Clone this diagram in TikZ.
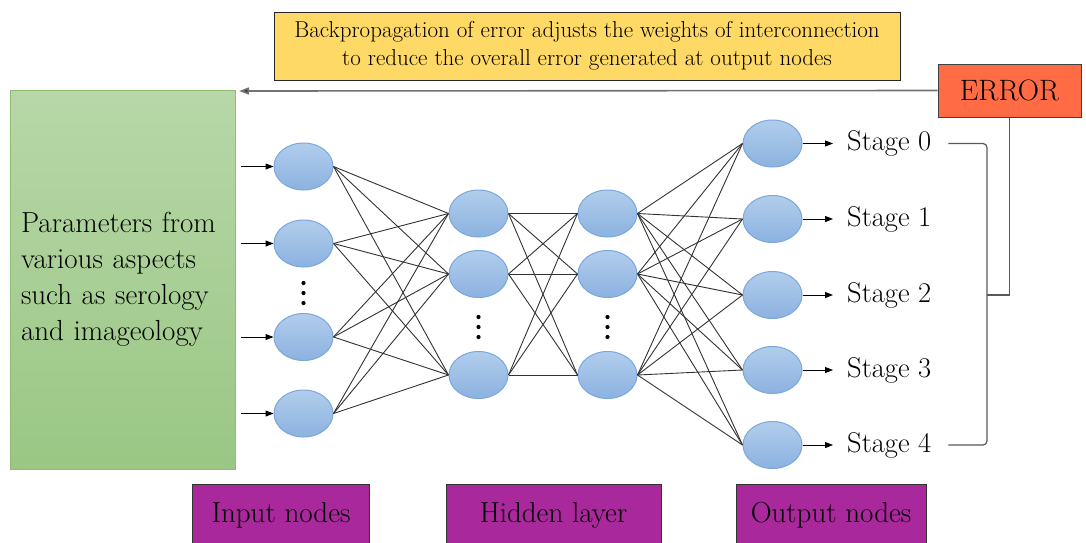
\documentclass[tikz,border=0pt]{standalone}
\usetikzlibrary{shapes.geometric,arrows.meta}

\definecolor{neuronTop}{HTML}{B1CDEC}
\definecolor{neuronBot}{HTML}{8CB2E0}
\definecolor{neuronEdge}{HTML}{7AA8DD}
\definecolor{paramTop}{HTML}{B7D7A8}
\definecolor{paramBot}{HTML}{9AC784}
\definecolor{paramEdge}{HTML}{8DBE72}
\definecolor{noteFill}{HTML}{FFD966}
\definecolor{errFill}{HTML}{FF6B45}
\definecolor{layerFill}{HTML}{A9289B}
\definecolor{wire}{HTML}{333333}

\tikzset{
  neuron/.style={ellipse, draw=neuronEdge, line width=1pt, top color=neuronTop,
    bottom color=neuronBot, minimum width=59, minimum height=47, inner sep=0},
  wireline/.style={draw=wire, line width=0.9pt},
  feed/.style={draw=black, line width=1pt, -{Triangle[length=8,width=6]}},
  stagelabel/.style={anchor=west, inner xsep=14, inner ysep=0,
    font=\fontsize{28.5}{32}\selectfont},
  layertag/.style={draw=black!80, line width=0.8pt, fill=layerFill, anchor=base,
    font=\fontsize{29}{32}\selectfont, inner ysep=0, text height=38, text depth=40},
  vdots/.style={fill=black, circle, inner sep=0, minimum size=4.2},
  bracket/.style={draw=black!65, line width=1.2pt},
}

\begin{document}
\begin{tikzpicture}[x=1pt, y=-1pt]
\clip (0,0) rectangle (1086,542);
\fill[white] (0,0) rectangle (1086,542);

% explanatory note and error box
\node[draw=black!85, line width=1pt, fill=noteFill, minimum width=626, minimum height=68,
  align=center, font=\fontsize{23}{28}\selectfont] (note) at (587,46)
  {Backpropagation of error adjusts the weights of interconnection\\
   to reduce the overall error generated at output nodes};
\node[draw=black!75, line width=1pt, fill=errFill, minimum width=143, minimum height=53,
  font=\fontsize{29.5}{32}\selectfont] (err) at (1009.5,90.5) {ERROR};

% input parameter box
\node[draw=paramEdge, line width=1pt, top color=paramTop, bottom color=paramBot,
  minimum width=225, minimum height=379, text width=203, inner xsep=11, align=left,
  font=\fontsize{29}{36}\selectfont] (params) at (122.5,279.5)
  {Parameters from various aspects such as serology and imageology};

% back-propagation arrow
\coordinate (backTip) at (239,91);
\draw[draw=black!55, line width=1.6pt, -{Triangle[length=10,width=7,fill=black!80]}]
  (err.west) -- (backTip);

% input layer
\foreach \i/\y in {1/166.5, 2/243.5, 3/337, 4/413.5} {
  \node[neuron] (in\i) at (303.5,\y) {};
  \coordinate (src\i) at (241,\y);
  \draw[feed] (src\i) -- (in\i.west);
}
\foreach \y [count=\k] in {283,293,303} \node[vdots] (dIn\k) at (303.5,\y) {};

% hidden layers
\foreach \j/\y in {1/213.5, 2/274, 3/375} {
  \node[neuron] (ha\j) at (478.5,\y) {};
  \node[neuron] (hb\j) at (607.5,\y) {};
}
\foreach \y [count=\k] in {317,327,337} {
  \node[vdots] (dHa\k) at (478.5,\y) {};
  \node[vdots] (dHb\k) at (607.5,\y) {};
}

% output layer and stage labels
\foreach \o/\y in {0/143.5, 1/219, 2/295, 3/370, 4/445} {
  \node[neuron] (out\o) at (772.5,\y) {};
  \node[stagelabel] (st\o) at (833,\y) {Stage \o};
  \draw[feed] (out\o.east) -- (st\o.west);
}

% full interconnections
\foreach \i in {1,...,4} \foreach \j in {1,2,3}
  \draw[wireline] (in\i.east) -- (ha\j.west);
\foreach \i in {1,2,3} \foreach \j in {1,2,3}
  \draw[wireline] (ha\i.east) -- (hb\j.west);
\foreach \i in {1,2,3} \foreach \o in {0,...,4}
  \draw[wireline] (hb\i.east) -- (out\o.west);

% bracket gathering the stages into the error
\coordinate (brTop) at (987,143.5);
\coordinate (brBot) at (987,445);
\coordinate (brMid) at (987,295);
\draw[bracket, rounded corners=4] ([xshift=3]st0.east) -- (brTop) -- (brBot) -- ([xshift=3]st4.east);
\draw[bracket] (brMid) -- (err.south |- brMid) -- (err.south);

% layer tags
\node[layertag, minimum width=177] (tagIn) at (281,522) {Input nodes};
\node[layertag, minimum width=215] (tagHid) at (553.5,522) {Hidden layer};
\node[layertag, minimum width=190] (tagOut) at (831,522) {Output nodes};
\end{tikzpicture}
\end{document}
